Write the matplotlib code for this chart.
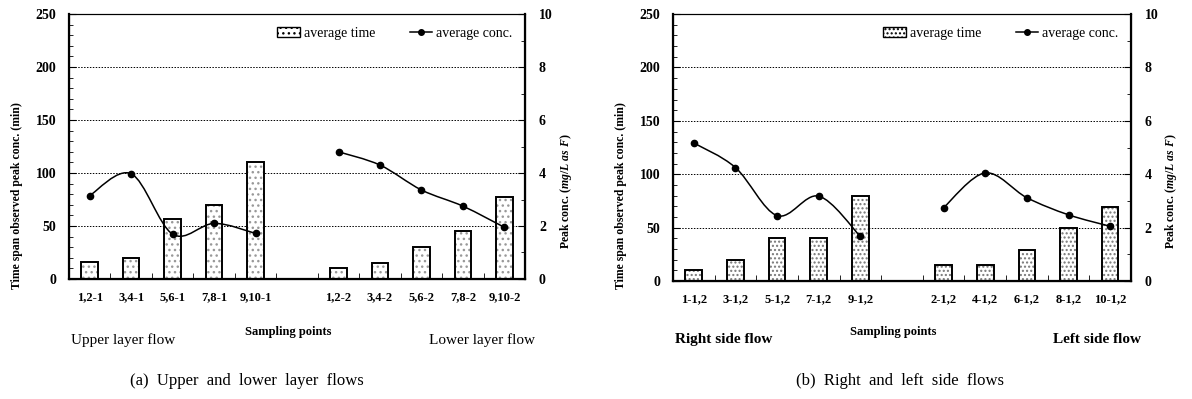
import numpy as np
import matplotlib.pyplot as plt
from matplotlib.path import Path
from matplotlib.patches import PathPatch, Patch
from matplotlib.lines import Line2D
from matplotlib.ticker import MultipleLocator

plt.rcParams['font.family'] = ['Liberation Serif', 'DejaVu Serif']
plt.rcParams['mathtext.fontset'] = 'custom'
plt.rcParams['mathtext.it'] = 'Liberation Serif:italic:bold'
plt.rcParams['mathtext.rm'] = 'Liberation Serif:bold'

# ---- data ----
labels_a = ['1,2-1', '3,4-1', '5,6-1', '7,8-1', '9,10-1', '',
            '1,2-2', '3,4-2', '5,6-2', '7,8-2', '9,10-2']
time_a1 = [16, 20, 57, 70, 110]
time_a2 = [10, 15, 30, 45, 77]
conc_a1 = [3.15, 3.97, 1.69, 2.1, 1.72]
conc_a2 = [4.8, 4.3, 3.36, 2.75, 1.95]

labels_b = ['1-1,2', '3-1,2', '5-1,2', '7-1,2', '9-1,2', '',
            '2-1,2', '4-1,2', '6-1,2', '8-1,2', '10-1,2']
time_b1 = [10, 20, 40, 40, 80]
time_b2 = [15, 15, 29, 50, 69]
conc_b1 = [5.17, 4.25, 2.45, 3.18, 1.67]
conc_b2 = [2.75, 4.05, 3.12, 2.48, 2.05]

x1 = np.arange(5)
x2 = np.arange(6, 11)


def smooth_path(xs, ys):
    # catmull-rom style bezier through the points (like a smoothed excel line)
    pts = np.column_stack([xs, ys]).astype(float)
    n = len(pts)
    verts = [pts[0]]
    codes = [Path.MOVETO]
    for i in range(n - 1):
        p0 = pts[i - 1] if i > 0 else pts[i]
        p1 = pts[i]
        p2 = pts[i + 1]
        p3 = pts[i + 2] if i + 2 < n else pts[i + 1]
        verts += [p1 + (p2 - p0) / 6, p2 - (p3 - p1) / 6, p2]
        codes += [Path.CURVE4] * 3
    return Path(verts, codes)


def panel(rect, labels, t1, t2, c1, c2, hatch, hcol, notes, caption, capx):
    ax = fig.add_axes(rect)
    for xs, ts in ((x1, t1), (x2, t2)):
        ax.bar(xs, ts, 0.4, color='white', edgecolor=hcol, hatch=hatch,
               linewidth=0, zorder=2)
        ax.bar(xs, ts, 0.4, fill=False, edgecolor='black', linewidth=1.4, zorder=3)
    ax.set_xlim(-0.5, 10.5)
    ax.set_ylim(0, 250)
    ax.yaxis.set_major_locator(MultipleLocator(50))
    ax.yaxis.set_minor_locator(MultipleLocator(10))
    ax.grid(axis='y', which='major', linestyle=(0, (1.5, 1.5)), color='black',
            linewidth=0.7, zorder=0)
    ax.set_xticks(range(11))
    ax.set_xticklabels(labels, fontsize=9, fontweight='bold')
    ax.set_xticks(np.arange(0.5, 10, 1), minor=True)
    ax.tick_params(axis='x', which='major', length=0, pad=9)
    ax.tick_params(axis='x', which='minor', direction='in', length=4)
    ax.tick_params(axis='y', which='both', direction='in', labelsize=10, pad=9)
    ax.tick_params(axis='y', which='major', length=5)
    ax.tick_params(axis='y', which='minor', length=3)
    for lb in ax.get_yticklabels():
        lb.set_fontweight('bold')
    for s in ('left', 'bottom'):
        ax.spines[s].set_linewidth(1.6)
    ax.spines['top'].set_linewidth(0.8)

    ax2 = ax.twinx()
    ax2.set_ylim(0, 10)
    ax2.yaxis.set_major_locator(MultipleLocator(2))
    ax2.yaxis.set_minor_locator(MultipleLocator(1))
    ax2.tick_params(axis='y', which='both', direction='in', labelsize=10, pad=10)
    ax2.tick_params(axis='y', which='major', length=5)
    ax2.tick_params(axis='y', which='minor', length=3)
    for lb in ax2.get_yticklabels():
        lb.set_fontweight('bold')
    ax2.spines['right'].set_linewidth(1.6)
    for xs, cs in ((x1, c1), (x2, c2)):
        ax2.add_patch(PathPatch(smooth_path(xs, cs), fill=False,
                                edgecolor='black', linewidth=1.1, zorder=4))
        ax2.plot(xs, cs, 'o', color='black', markersize=4.5, zorder=5)

    handles = [Patch(facecolor='white', edgecolor='black', hatch=hatch, linewidth=1),
               Line2D([], [], color='black', marker='o', markersize=4, linewidth=1.1)]
    ax2.legend(handles, ['average time', 'average conc.'], ncol=2, frameon=False,
               loc='upper right', bbox_to_anchor=(1.0, 1.0), fontsize=10,
               handlelength=1.6, handletextpad=0.3, columnspacing=2.5)

    l, b, w, h = rect
    fig.text(l + 0.002, 0.148, notes[0], fontsize=11, fontweight=notes[2],
             ha='left', va='center')
    fig.text(l + w * 0.48, 0.168, 'Sampling points', fontsize=9,
             fontweight='bold', ha='center', va='center')
    fig.text(l + w + 0.008, 0.148, notes[1], fontsize=11, fontweight=notes[2],
             ha='right', va='center')
    fig.text(capx, 0.045, caption, fontsize=12, ha='center', va='center')
    fig.text(l - 0.044, 0.51, 'Time span observed peak conc. (min)', rotation=90,
             fontsize=8.5, fontweight='bold', ha='center', va='center')
    fig.text(l + w + 0.034, 0.52, r'Peak conc. ($\it{mg/L\ as\ F}$)',
             rotation=90, fontsize=8.5, fontweight='bold', ha='center', va='center')
    return ax


fig = plt.figure(figsize=(11.92, 3.99), dpi=100)
panel([0.0579, 0.3008, 0.3826, 0.664], labels_a, time_a1, time_a2, conc_a1, conc_a2,
      '...', '#999999', ('Upper layer flow', 'Lower layer flow', 'normal'),
      '(a)  Upper  and  lower  layer  flows', 0.207)
panel([0.5646, 0.2957, 0.3842, 0.669], labels_b, time_b1, time_b2, conc_b1, conc_b2,
      '....', '#777777', ('Right side flow', 'Left side flow', 'bold'),
      '(b)  Right  and  left  side  flows', 0.755)
fig.savefig('out.png', dpi=100)
